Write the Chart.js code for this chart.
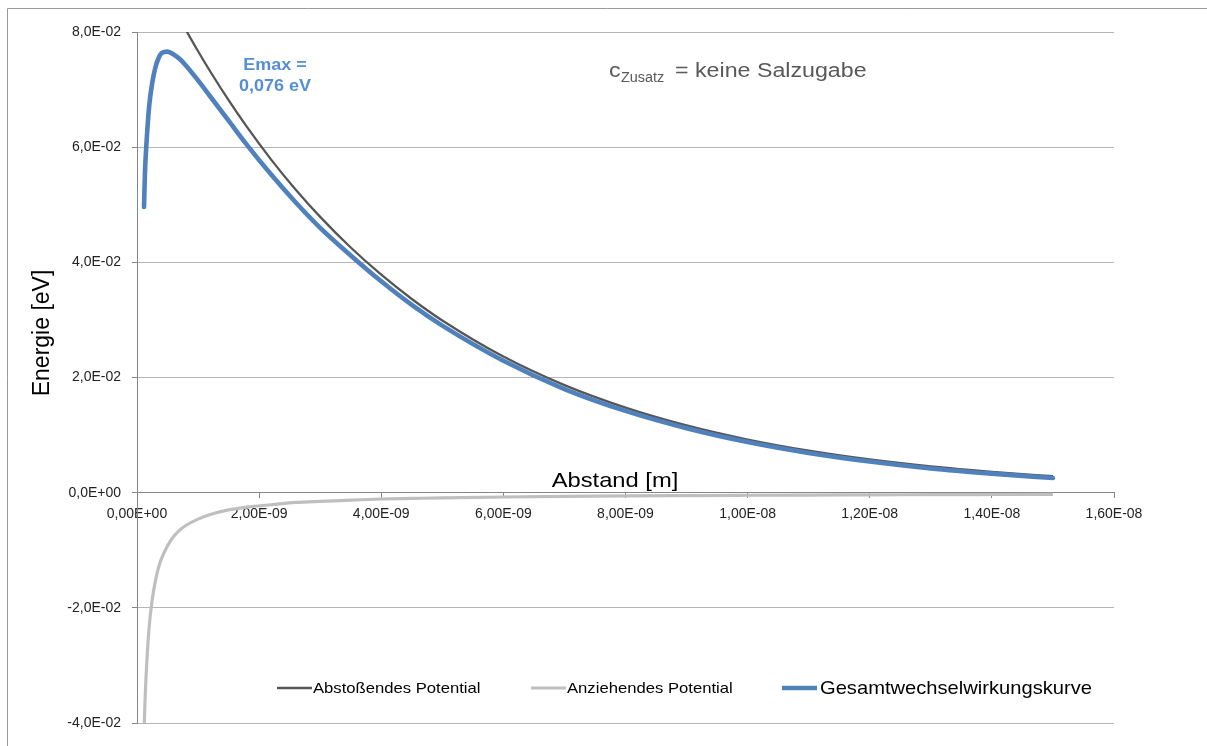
<!DOCTYPE html>
<html>
<head>
<meta charset="utf-8">
<title>Wechselwirkungspotential</title>
<script src="https://cdn.jsdelivr.net/npm/chart.js@4/dist/chart.umd.min.js"></script>
<style>
  html, body { margin: 0; padding: 0; background: #fff; }
  canvas { display: block; }
</style>
</head>
<body>
<canvas id="chart" width="1207" height="746"></canvas>
<script>
// Abstand [m]
const distance = [1.0e-10, 1.15e-10, 1.3e-10, 1.6e-10, 2.0e-10, 2.5e-10, 3.0e-10, 3.5e-10, 4.0e-10, 5.0e-10,
  6.0e-10, 7.0e-10, 8.0e-10, 1.0e-9, 1.2e-9, 1.5e-9, 1.8e-9, 2.2e-9, 2.6e-9, 3.0e-9,
  3.5e-9, 4.0e-9, 4.5e-9, 5.0e-9, 6.0e-9, 7.0e-9, 8.0e-9, 9.0e-9, 1.0e-8, 1.1e-8,
  1.2e-8, 1.3e-8, 1.4e-8, 1.5e-8]

// Energie [eV]
const abstossend = [0.09474, 0.09441, 0.09408, 0.09342, 0.09254, 0.09146, 0.09039, 0.08933, 0.08829, 0.08623,
  0.08423, 0.08227, 0.08036, 0.07666, 0.07314, 0.06816, 0.06351, 0.05780, 0.05261, 0.04789,
  0.04257, 0.03785, 0.03364, 0.02991, 0.02364, 0.01868, 0.01477, 0.01167, 0.00922, 0.00729,
  0.00576, 0.00455, 0.00360, 0.00285]

const anziehend = [-0.0480, -0.0415, -0.0365, -0.0295, -0.0232, -0.0185, -0.0154, -0.0131, -0.0115, -0.0092,
  -0.0076, -0.0065, -0.0057, -0.0046, -0.0038, -0.0030, -0.0025, -0.0021, -0.0017, -0.0015,
  -0.0013, -0.0011, -0.0010, -0.0009, -0.00075, -0.00064, -0.00056, -0.0005, -0.00045, -0.00041,
  -0.00038, -0.00035, -0.00032, -0.0003]

const gesamt = [null, 0.0496, 0.0555, 0.0615, 0.0672, 0.0712, 0.0738, 0.0754, 0.0763, 0.0766,
  0.0761, 0.0753, 0.0742, 0.0716, 0.0688, 0.0646, 0.0604, 0.0552, 0.0504, 0.0460,
  0.0412, 0.0367, 0.0326, 0.0290, 0.0229, 0.0180, 0.0142, 0.0112, 0.0088, 0.0069,
  0.0054, 0.0042, 0.0033, 0.00255]

const seriesNames = ["Abstoßendes Potential", "Anziehendes Potential", "Gesamtwechselwirkungskurve"]
const seriesColors = ["#565656", "#bfbfbf", "#4f81bd"]

const xMin = 0, xMax = 1.6e-8, xStep = 2e-9
const yMin = -0.04, yMax = 0.08, yStep = 0.02

function toPoints(values) {
  const pts = []
  values.forEach((v, i) => {
    if (v !== null) pts.push({ x: distance[i], y: v })
  })
  return pts
}

// 8.0e-2 -> 8,0E-02
function excelExp(v, digits) {
  const parts = Number(v).toExponential(digits).split("e")
  const exp = parseInt(parts[1], 10)
  const sign = exp < 0 ? "-" : "+"
  return parts[0].replace(".", ",") + "E" + sign + String(Math.abs(exp)).padStart(2, "0")
}

function drawText(ctx, str, x, y, font, color, align, stretch) {
  ctx.save()
  ctx.translate(x, y)
  ctx.scale(stretch, 1)
  ctx.font = font
  ctx.fillStyle = color
  ctx.textAlign = align
  ctx.textBaseline = "alphabetic"
  ctx.fillText(str, 0, 0)
  ctx.restore()
}

const extras = {
  id: "extras",
  beforeDraw(chart) {
    const ctx = chart.ctx
    ctx.save()
    ctx.fillStyle = "#fff"
    ctx.fillRect(0, 0, chart.width, chart.height)
    ctx.strokeStyle = "#9a9a9a"
    ctx.lineWidth = 1
    ctx.beginPath()
    ctx.moveTo(7.5, chart.height)
    ctx.lineTo(7.5, 8.5)
    ctx.lineTo(chart.width, 8.5)
    ctx.stroke()
    ctx.restore()
  },
  afterDraw(chart) {
    const ctx = chart.ctx

    // axis titles
    drawText(ctx, "Abstand [m]", 615, 487, "21px 'Liberation Sans'", "#000", "center", 1.13)
    ctx.save()
    ctx.translate(49, 333)
    ctx.rotate(-Math.PI / 2)
    ctx.font = "23px 'Liberation Sans'"
    ctx.fillStyle = "#000"
    ctx.textAlign = "center"
    ctx.textBaseline = "alphabetic"
    ctx.fillText("Energie [eV]", 0, 0)
    ctx.restore()

    // annotations
    drawText(ctx, "Emax =", 275, 69.5, "bold 17px 'Liberation Sans'", "#558ed5", "center", 1.06)
    drawText(ctx, "0,076 eV", 275, 90.5, "bold 17px 'Liberation Sans'", "#558ed5", "center", 1.06)
    drawText(ctx, "c", 609, 77, "20px 'Liberation Sans'", "#595959", "left", 1.16)
    drawText(ctx, "Zusatz", 621, 82, "14px 'Liberation Sans'", "#595959", "left", 1.03)
    drawText(ctx, "= keine Salzugabe", 675, 77, "20px 'Liberation Sans'", "#595959", "left", 1.16)

    // legend
    const legend = [
      { x: 277, text: 313, base: 693, width: 2.3, font: "15px 'Liberation Sans'", stretch: 1.11 },
      { x: 531, text: 567, base: 693, width: 3.2, font: "15px 'Liberation Sans'", stretch: 1.11 },
      { x: 782, text: 820, base: 694, width: 4.6, font: "19px 'Liberation Sans'", stretch: 1.06 }
    ]
    legend.forEach((item, i) => {
      ctx.save()
      ctx.strokeStyle = seriesColors[i]
      ctx.lineWidth = item.width
      ctx.beginPath()
      ctx.moveTo(item.x, 688)
      ctx.lineTo(item.x + 35, 688)
      ctx.stroke()
      ctx.restore()
      drawText(ctx, chart.data.datasets[i].label, item.text, item.base, item.font, "#000", "left", item.stretch)
    })
  }
}

const ctx = document.getElementById("chart").getContext("2d")
const chart = new Chart(ctx, {
  type: "line",
  data: {
    datasets: [
      {
        label: seriesNames[0],
        data: toPoints(abstossend),
        borderColor: seriesColors[0],
        borderWidth: 2.3,
        order: 3
      },
      {
        label: seriesNames[1],
        data: toPoints(anziehend),
        borderColor: seriesColors[1],
        borderWidth: 3.2,
        order: 2
      },
      {
        label: seriesNames[2],
        data: toPoints(gesamt),
        borderColor: seriesColors[2],
        borderWidth: 4.6,
        borderCapStyle: "round",
        order: 1
      }
    ]
  },
  options: {
    responsive: false,
    animation: false,
    devicePixelRatio: 1,
    layout: { padding: { top: 32, right: 93, bottom: 23, left: 0 } },
    elements: {
      point: { radius: 0, hoverRadius: 0 },
      line: { cubicInterpolationMode: "monotone", fill: false }
    },
    plugins: {
      legend: { display: false },
      tooltip: { enabled: false }
    },
    scales: {
      x: {
        type: "linear",
        position: { y: 0 },
        min: xMin,
        max: xMax,
        ticks: {
          stepSize: xStep,
          padding: 8,
          color: "#222",
          font: { family: "'Liberation Sans'", size: 14 },
          maxRotation: 0,
          callback: (v) => excelExp(v, 2)
        },
        grid: { drawOnChartArea: false, drawTicks: true, tickLength: 5, color: "#868686" },
        border: { display: true, color: "#868686", width: 1 }
      },
      y: {
        type: "linear",
        min: yMin,
        max: yMax,
        afterFit: (scale) => { scale.width = 137 },
        ticks: {
          stepSize: yStep,
          padding: 11,
          color: "#222",
          font: { family: "'Liberation Sans'", size: 14 },
          callback: (v) => excelExp(v, 1)
        },
        grid: { color: "#b5b5b5", tickColor: "#868686", tickLength: 5 },
        border: { display: true, color: "#868686", width: 1 }
      }
    }
  },
  plugins: [extras]
})
</script>
</body>
</html>
